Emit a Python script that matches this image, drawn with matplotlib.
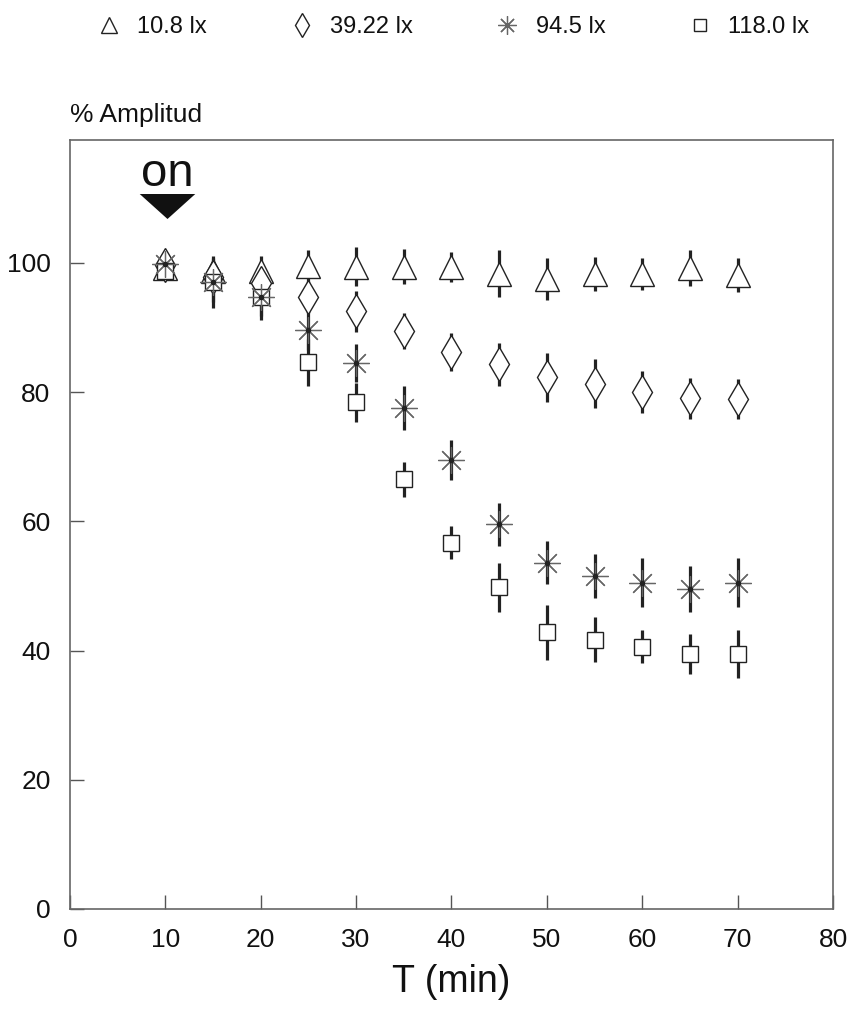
import matplotlib
matplotlib.use("Agg")
import matplotlib.pyplot as plt
import numpy as np

plt.rcParams['font.family'] = ['Liberation Sans', 'DejaVu Sans']

#------------------------------------------------------------------------------
# Data
#------------------------------------------------------------------------------

t = [10, 15, 20, 25, 30, 35, 40, 45, 50, 55, 60, 65, 70]

labels = ["10.8 lx", "39.22 lx", "94.5 lx", "118.0 lx"]

amp_108 = [99.2, 98.8, 98.8, 99.5, 99.4, 99.4, 99.4, 98.3, 97.5, 98.3, 98.3, 99.2, 98.1]
err_108 = [1.0, 2.0, 2.2, 2.5, 3.0, 2.7, 2.3, 3.6, 3.2, 2.6, 2.5, 2.8, 2.6]

amp_3922 = [99.6, 97.8, 96.8, 94.7, 92.5, 89.5, 86.2, 84.3, 82.3, 81.3, 80.0, 79.0, 78.9]
err_3922 = [1.0, 2.0, 2.3, 2.5, 3.2, 2.8, 3.0, 3.3, 3.8, 3.8, 3.3, 3.2, 3.1]

amp_945 = [99.8, 97.0, 94.7, 89.6, 84.5, 77.5, 69.5, 59.5, 53.6, 51.5, 50.5, 49.5, 50.5]
err_945 = [1.0, 3.0, 3.0, 3.1, 2.9, 3.4, 3.1, 3.4, 3.3, 3.4, 3.8, 3.5, 3.8]

amp_118 = [98.8, 97.0, 94.7, 84.6, 78.4, 66.5, 56.7, 49.8, 42.8, 41.7, 40.6, 39.5, 39.4]
err_118 = [1.0, 4.0, 3.6, 3.6, 3.0, 2.7, 2.6, 3.8, 4.2, 3.5, 2.6, 3.1, 3.7]

#------------------------------------------------------------------------------
# Plot
#------------------------------------------------------------------------------

fig = plt.figure(figsize=(8.53, 10.10), dpi=100)
ax = fig.add_axes([0.082, 0.10, 0.8946, 0.7614])

ink = "#222222"
star = (8, 2, 0)

# marker, size, edge colour, edge width, zorder
series = [
    (amp_108, err_108, "^", 17, ink, 1.0, 3),
    (amp_3922, err_3922, "d", 17, ink, 1.0, 3),
    (amp_945, err_945, star, 19, "#666666", 0.9, 5),
    (amp_118, err_118, "s", 12, ink, 1.0, 4),
]

handles = []
for (y, e, m, ms, ec, mew, z), lab in zip(series, labels):
    ax.errorbar(t, y, yerr=e, fmt="none", ecolor=ink, elinewidth=2.3, capsize=0, zorder=2)
    h, = ax.plot(t, y, linestyle="none", marker=m, markersize=ms,
                 markerfacecolor="white", markeredgecolor=ec,
                 markeredgewidth=mew, zorder=z, label=lab)
    handles.append(h)
    if m == star:
        # dark centre dot of the asterisk
        ax.plot(t, y, linestyle="none", marker="o", markersize=3,
                color=ink, zorder=z + 1)

ax.set_xlim(0, 80)
ax.set_ylim(0, 119)
ax.set_xticks(range(0, 81, 10))
ax.set_yticks(range(0, 101, 20))
ax.tick_params(direction="in", length=10, width=1, colors="#555555",
               labelcolor="#111111", labelsize=19)
ax.tick_params(axis="y", pad=14)
ax.tick_params(axis="x", pad=14)
for s in ax.spines.values():
    s.set_color("#666666")
    s.set_linewidth(1.2)

ax.set_xlabel("T (min)", fontsize=27, labelpad=8, color="#111111")
fig.text(0.082, 0.886, "% Amplitud", fontsize=19, ha="left", va="center", color="#111111")

# "on" marker with flat arrowhead
ax.text(10.2, 113.8, "on", fontsize=34, ha="center", va="center", color="#111111")
arrow_head = [(-1.0, 0.45), (1.0, 0.45), (0.0, -0.45), (-1.0, 0.45)]
ax.plot([10.2], [108.8], marker=arrow_head, markersize=40, color="#111111",
        markeredgewidth=0, linestyle="none")

leg = fig.legend(handles=handles, labels=labels, loc="upper center",
                 bbox_to_anchor=(0.53, 1.005), ncol=4, frameon=False,
                 fontsize=17, markerscale=0.7, handletextpad=0.6,
                 columnspacing=3.4, handlelength=1.2)
for txt in leg.get_texts():
    txt.set_color("#111111")

fig.savefig("out.png", dpi=100)
